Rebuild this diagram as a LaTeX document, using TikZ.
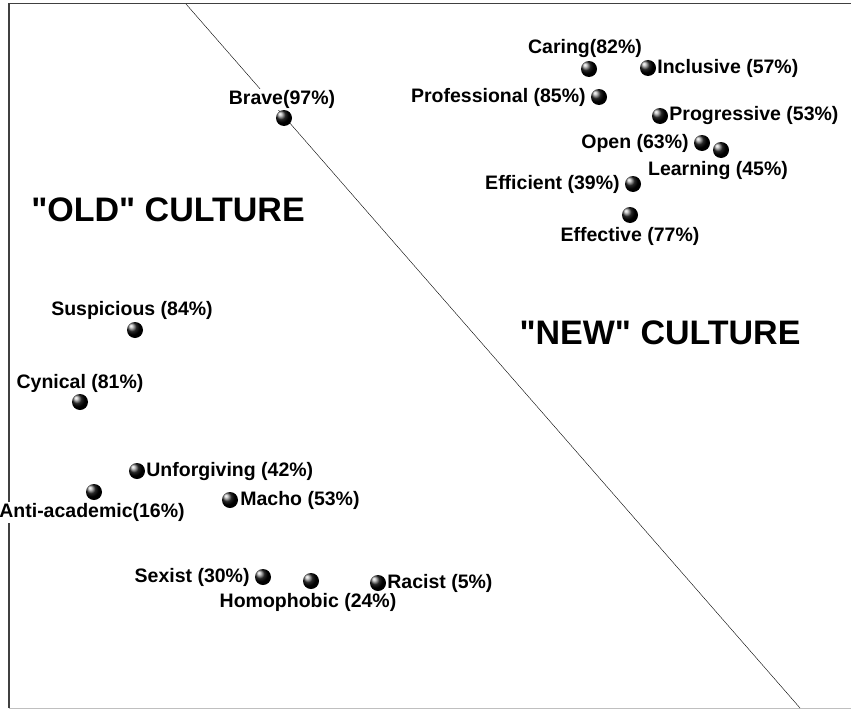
\documentclass[tikz,border=0pt]{standalone}
\usepackage{fontspec}
\setmainfont{Liberation Sans}
\newfontfamily\plainsans{Liberation Sans}
\usetikzlibrary{positioning}

\pgfdeclareradialshading{glossy}{\pgfpoint{-14bp}{14bp}}{%
  color(0bp)=(white); color(5bp)=(black!20); color(14bp)=(black!85); color(22bp)=(black); color(50bp)=(black)}

\tikzset{
  dot/.style={circle,inner sep=0pt,minimum size=16pt,shading=glossy},
  lab/.style={fill=white,inner sep=1pt,font=\fontsize{19.5}{22}\selectfont\bfseries},
  big/.style={font=\plainsans\fontsize{34}{38}\selectfont\bfseries}
}

\begin{document}
\begin{tikzpicture}[x=1pt,y=-1pt]
    \useasboundingbox (0,0) rectangle (851,709);
    \draw[black!75,line width=1.2pt] (9,708) -- (9,3.5) -- (851,3.5);
    \draw[black!25] (9,708.3) -- (851,708.3);

    \coordinate (top) at (186,4);
    \coordinate (bot) at (800,708);
    \draw (top) -- (bot);

    \node[big] (old) at (168,210) {"OLD" CULTURE};
    \node[big] (new) at (660,333) {"NEW" CULTURE};

    \node[dot] (caring) at (589,69) {};
    \node[dot] (inclusive) at (648,68) {};
    \node[dot] (professional) at (599,97) {};
    \node[dot] (progressive) at (660,116) {};
    \node[dot] (open) at (702,143) {};
    \node[dot] (learning) at (721,150) {};
    \node[dot] (efficient) at (633,184) {};
    \node[dot] (effective) at (630,215) {};
    \node[dot] (brave) at (284,118) {};

    \node[lab,above=2pt of caring,xshift=-4pt] (caringl) {Caring(82\%)};
    \node[lab,right=0pt of inclusive] (inclusivel) {Inclusive (57\%)};
    \node[lab,left=4pt of professional] (professionall) {Professional (85\%)};
    \node[lab,right=0pt of progressive] (progressivel) {Progressive (53\%)};
    \node[lab,left=4pt of open] (openl) {Open (63\%)};
    \node[lab,below=2pt of learning,xshift=-3pt] (learningl) {Learning (45\%)};
    \node[lab,left=4pt of efficient] (efficientl) {Efficient (39\%)};
    \node[lab,below=3pt of effective] (effectivel) {Effective (77\%)};
    \node[lab,above=0pt of brave,xshift=-2pt] (bravel) {Brave(97\%)};

    \node[dot] (suspicious) at (135,330) {};
    \node[dot] (cynical) at (80,402) {};
    \node[dot] (unforgiving) at (137,471) {};
    \node[dot] (antiacademic) at (94,492) {};
    \node[dot] (macho) at (230,500) {};
    \node[dot] (sexist) at (263,577) {};
    \node[dot] (homophobic) at (311,581) {};
    \node[dot] (racist) at (378,583) {};

    \node[lab,above=1pt of suspicious,xshift=-3pt] (suspiciousl) {Suspicious (84\%)};
    \node[lab,above=0pt of cynical] (cynicall) {Cynical (81\%)};
    \node[lab,right=0pt of unforgiving] (unforgivingl) {Unforgiving (42\%)};
    \node[lab,below=2pt of antiacademic,xshift=-2pt] (antiacademicl) {Anti-academic(16\%)};
    \node[lab,right=1pt of macho] (machol) {Macho (53\%)};
    \node[lab,left=4pt of sexist] (sexistl) {Sexist (30\%)};
    \node[lab,below=3pt of homophobic,xshift=-3pt] (homophobicl) {Homophobic (24\%)};
    \node[lab,right=0pt of racist] (racistl) {Racist (5\%)};
\end{tikzpicture}
\end{document}
